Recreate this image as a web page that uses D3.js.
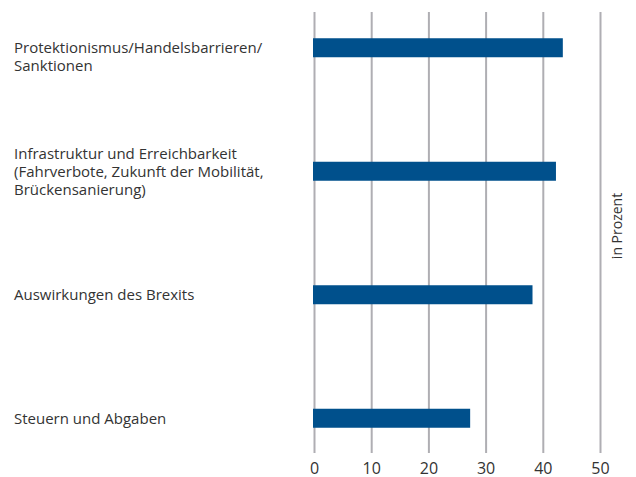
<!DOCTYPE html>
<html>
<head>
<meta charset="utf-8">
<script src="https://cdn.jsdelivr.net/npm/d3@7"></script>
<style>
	body { margin: 0; background: #fff; }
	text { font-family: "Open Sans", "Noto Sans", sans-serif; fill: #333; }
</style>
</head>
<body>
<div id="chart"></div>
<script>
//-------------------------------------
// data
//-------------------------------------
var categories = [
	["Protektionismus/Handelsbarrieren/", "Sanktionen"],
	["Infrastruktur und Erreichbarkeit", "(Fahrverbote, Zukunft der Mobilität,", "Brückensanierung)"],
	["Auswirkungen des Brexits"],
	["Steuern und Abgaben"]
];
var values = [43.5, 42.3, 38.2, 27.3];
var ticks = [0, 10, 20, 30, 40, 50];
var axis_title = "in Prozent";

var width = 636;
var height = 477;

var svg = d3.select("#chart")
	.append("svg")
	.attr("width", width)
	.attr("height", height);

var x = d3.scaleLinear().domain([0, 50]).range([314, 600]);
var y = d3.scaleBand().domain(d3.range(categories.length)).range([-14, 480]);

//grid
svg.append("g")
	.call(d3.axisBottom(x).tickValues(ticks).tickSize(0).tickPadding(0))
	.call(function(g){ g.select(".domain").remove(); })
	.selectAll(".tick")
	.each(function(){
		var t = d3.select(this);
		t.select("line").remove();
		t.insert("line", "text")
			.attr("y1", 12).attr("y2", 453)
			.style("stroke", "#afaeb3").style("stroke-width", 2);
		t.select("text")
			.attr("y", 474).attr("dy", null)
			.style("font-size", "16px")
			.style("fill", "#333");
	});

//bars
svg.selectAll("rect.bar")
	.data(values)
	.enter()
	.append("rect")
	.attr("class", "bar")
	.attr("x", x(0) - 1)
	.attr("y", function(d, i){ return y(i) + y.bandwidth() / 2 - 9.5; })
	.attr("width", function(d){ return x(d) - x(0) + 1; })
	.attr("height", 19)
	.style("fill", "#00508c");

//labels
svg.selectAll("text.label")
	.data(categories)
	.enter()
	.append("text")
	.attr("class", "label")
	.style("font-size", "15px")
	.each(function(lines, i){
		var cy = y(i) + y.bandwidth() / 2;
		var start = cy + 5.5 - Math.floor((lines.length - 1) / 2) * 18;
		d3.select(this).selectAll("tspan")
			.data(lines)
			.enter()
			.append("tspan")
			.attr("x", 14)
			.attr("y", function(d, j){ return start + j * 18; })
			.text(function(d){ return d; });
	});

//axis title
svg.append("text")
	.attr("transform", "translate(622,226) rotate(-90)")
	.attr("text-anchor", "middle")
	.style("font-size", "14px")
	.text(axis_title);
</script>
</body>
</html>
